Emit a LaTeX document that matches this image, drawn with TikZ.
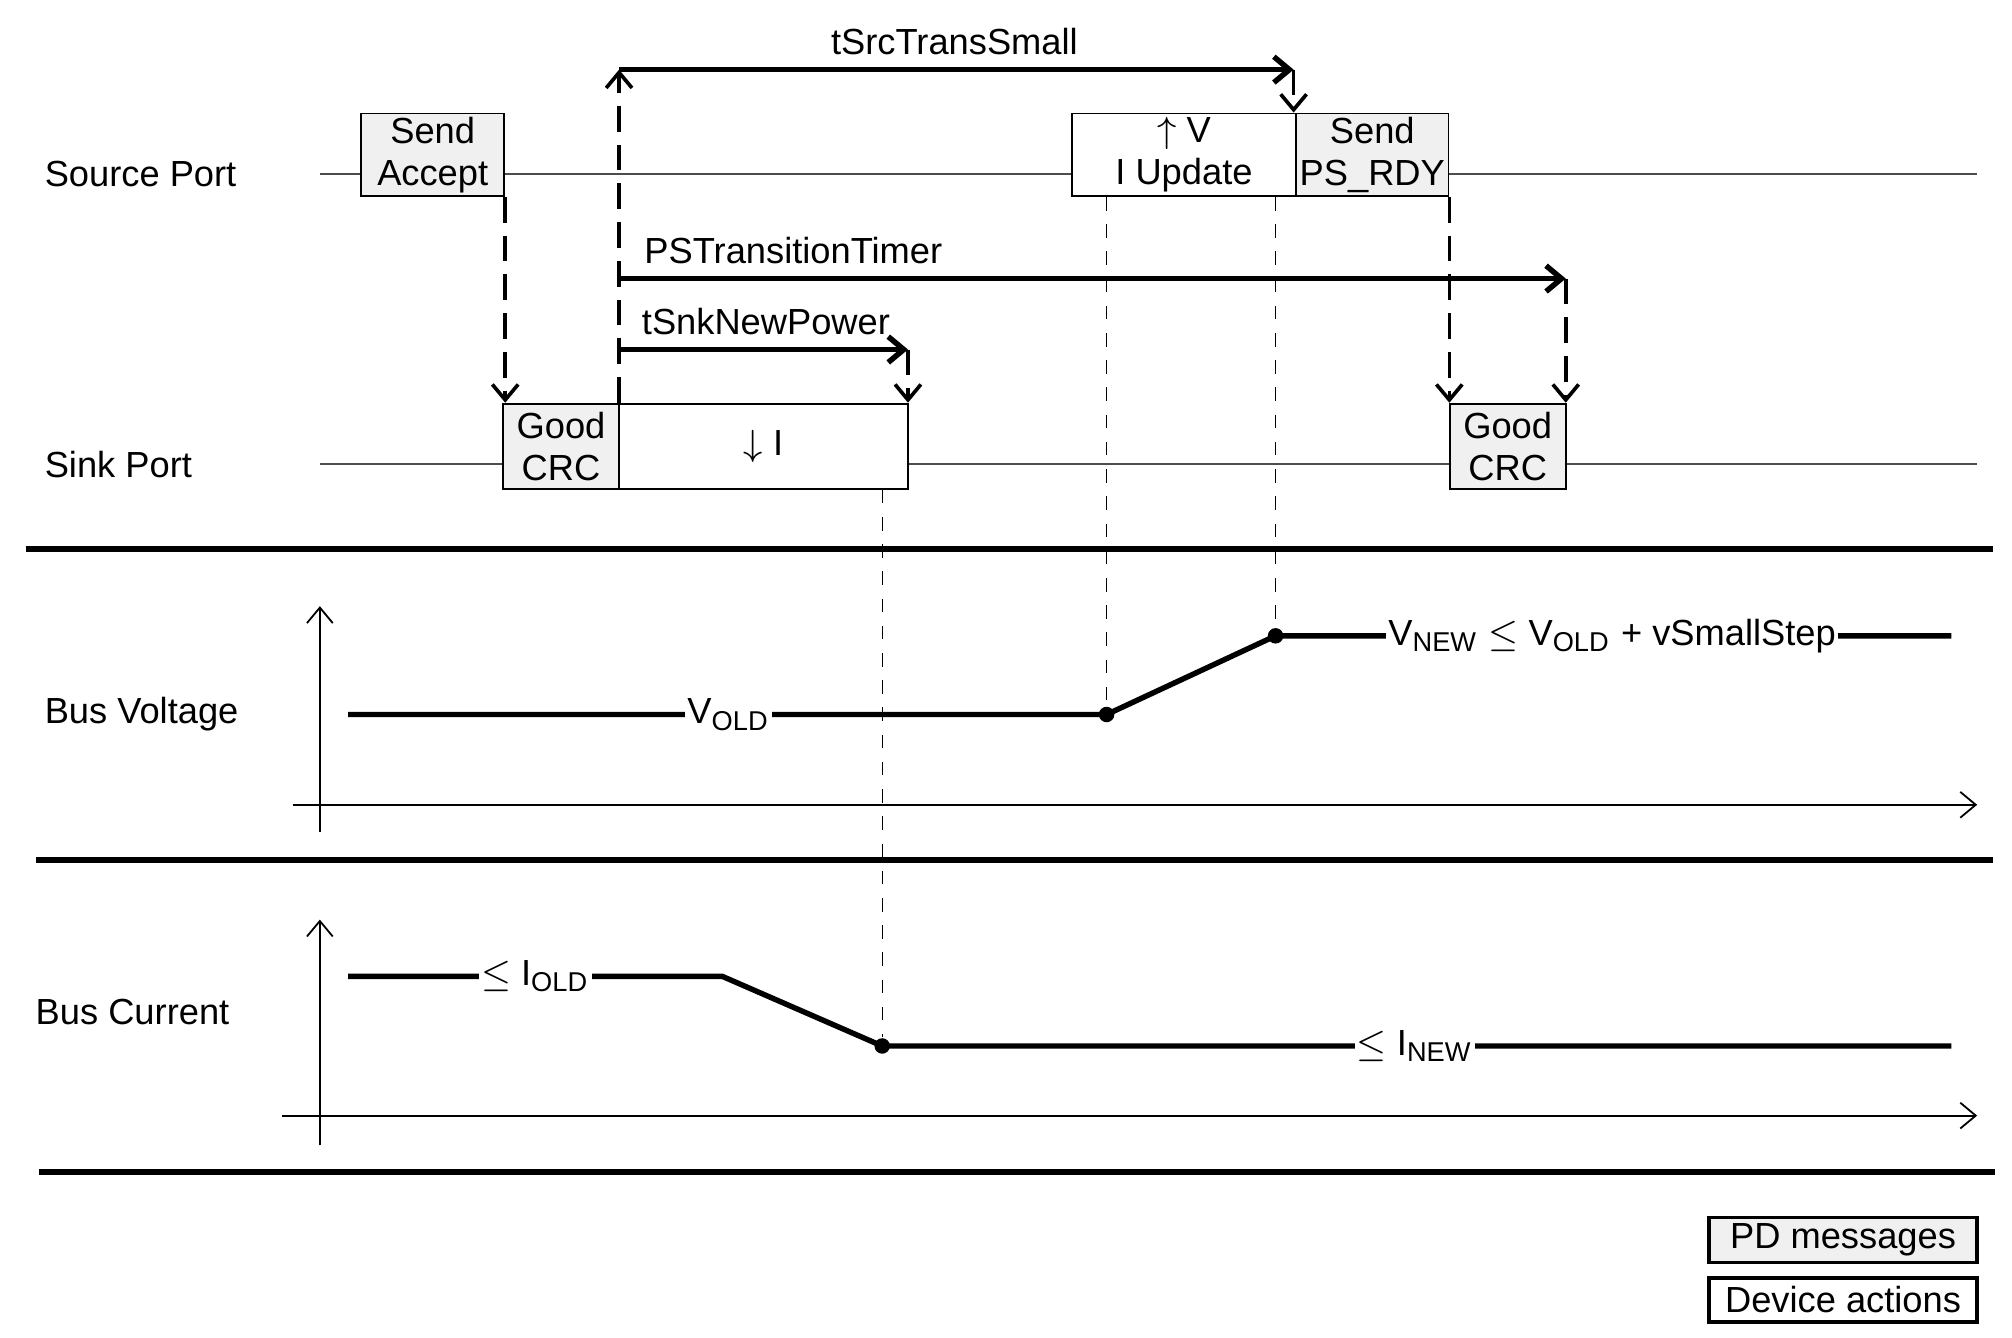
\documentclass[tikz,border=0pt]{standalone}
\usepackage{fontspec}
\setmainfont{Liberation Sans}
\usetikzlibrary{arrows.meta,positioning}
\tikzset{
	msg/.style={draw, fill=black!6, inner sep=0pt, align=center, font=\fontsize{8}{9.2}\selectfont},
	act/.style={draw, fill=white, inner sep=0pt, align=center, font=\fontsize{8}{9.2}\selectfont},
	lbl/.style={font=\fontsize{8}{9.2}\selectfont},
	tick/.style={-{Straight Barb[length=1.2mm,width=2mm]}},
	timer/.style={very thick, tick},
	jump/.style={thick, dashed, dash pattern=on 2mm off 1mm, tick},
	guide/.style={very thin, dashed},
	sep/.style={line width=1.3pt},
	dot/.style={circle, fill, inner sep=0pt, minimum size=1.2mm}
}
\begin{document}
\begin{tikzpicture}[x=0.01cm, y=-0.01cm]
	\useasboundingbox (0,0) rectangle (1560,1037);

	% port lines
	\draw[black!70, thin] (248,135) -- (1533,135);
	\draw[black!70, thin] (248,360) -- (1533,360);
	\node[lbl, anchor=west, inner sep=0pt] at (34,135) {Source Port};
	\node[lbl, anchor=west, inner sep=0pt] at (34,360) {Sink Port};
	\node[lbl, anchor=west, inner sep=0pt] at (34,554) {Bus Voltage};
	\node[lbl, anchor=west, inner sep=0pt] at (27,785) {Bus Current};

	% messages and actions
	\node[msg, minimum width=1.11cm, minimum height=0.64cm] (accept) at (335.5,120) {Send\\Accept};
	\node[act, minimum width=1.74cm, minimum height=0.64cm] (vup) at (918,120) {$\uparrow$ V\\I Update};
	\node[msg, minimum width=1.18cm, minimum height=0.64cm] (rdy) at (1064,120) {Send\\PS\_RDY};
	\node[msg, minimum width=0.9cm, minimum height=0.66cm] (crcA) at (435,346) {Good\\CRC};
	\node[act, minimum width=2.24cm, minimum height=0.66cm] (idown) at (592,346) {$\downarrow$ I};
	\node[msg, minimum width=0.9cm, minimum height=0.66cm] (crcB) at (1169,346) {Good\\CRC};

	% separators
	\draw[sep] (20,426) -- (1545,426);
	\draw[sep] (28,667) -- (1545,667);
	\draw[sep] (30,909) -- (1547,909);

	% axes
	\draw[thin, tick] (248,645) -- (248,470);
	\draw[thin, tick] (227,624) -- (1533,624);
	\draw[thin, tick] (248,888) -- (248,713);
	\draw[thin, tick] (219,865) -- (1533,865);

	% voltage
	\node[dot] (v1) at (858,554) {};
	\node[dot] (v2) at (989,493) {};
	\draw[very thick] (270,554) -- (v1.center) -- (v2.center) -- (1513,493);
	\node[lbl, fill=white, inner sep=0.5pt] at (565,554) {V\textsubscript{OLD}};
	\node[lbl, fill=white, inner sep=0.5pt] at (1250,493) {V\textsubscript{NEW} $\leq$ V\textsubscript{OLD} + vSmallStep};

	% current
	\node[dot] (c1) at (684,811) {};
	\draw[very thick] (270,757) -- (560,757) -- (c1.center) -- (1513,811);
	\node[lbl, fill=white, inner sep=0.5pt] at (415,757) {$\leq$ I\textsubscript{OLD}};
	\node[lbl, fill=white, inner sep=0.5pt] at (1097,811) {$\leq$ I\textsubscript{NEW}};

	% guides
	\draw[guide] (vup.south west -| v1) -- (v1);
	\draw[guide] (rdy.south west -| v2) -- (v2);
	\draw[guide] (idown.south east -| c1) -- (c1);

	% timers
	\coordinate (t0) at (480,54);
	\coordinate (t1) at (1003,54);
	\coordinate (p0) at (480,216);
	\coordinate (p1) at (1214,216);
	\coordinate (s0) at (480,271);
	\coordinate (s1) at (704,271);
	\draw[jump] (crcA.north east -| t0) -- (t0);
	\draw[timer] (t0) -- (t1);
	\draw[jump] (t1) -- (rdy.north west -| t1);
	\draw[timer] (p0) -- (p1);
	\draw[jump] (p1) -- (crcB.north east -| p1);
	\draw[timer] (s0) -- (s1);
	\draw[jump] (s1) -- (idown.north east -| s1);
	\draw[jump] (accept.south east) -- (crcA.north west -| accept.south east);
	\draw[jump] (rdy.south east) -- (crcB.north west -| rdy.south east);
	\node[lbl, anchor=base] at (740,42) {tSrcTransSmall};
	\node[lbl, anchor=base west, inner sep=0pt] at (499,204) {PSTransitionTimer};
	\node[lbl, anchor=base west, inner sep=0pt] at (497,259) {tSnkNewPower};

	% legend
	\node[msg, thick, minimum width=2.08cm, minimum height=0.35cm] (lgA) at (1429,961.5) {PD messages};
	\node[act, thick, minimum width=2.08cm, minimum height=0.34cm, below=0.09cm of lgA] (lgB) {Device actions};
\end{tikzpicture}
\end{document}
